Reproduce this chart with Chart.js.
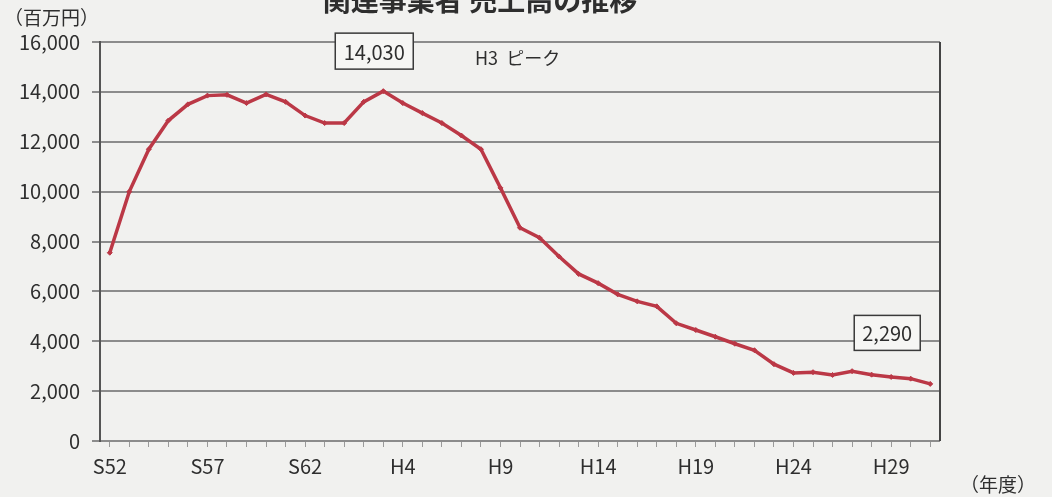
<!DOCTYPE html>
<html lang="ja">
<head>
<meta charset="utf-8">
<script src="https://cdn.jsdelivr.net/npm/chart.js@4.4.0/dist/chart.umd.min.js"></script>
<style>
  html,body{margin:0;padding:0;background:#f1f1ef;}
  #wrap{width:1052px;height:497px;position:relative;}
</style>
</head>
<body>
<div id="wrap"><canvas id="c" width="1052" height="497"></canvas></div>
<script>
// 年度ラベル（S52〜H31）
const years = [
  'S52','S53','S54','S55','S56','S57','S58','S59','S60','S61','S62','S63',
  'H1','H2','H3','H4','H5','H6','H7','H8','H9','H10','H11','H12','H13','H14',
  'H15','H16','H17','H18','H19','H20','H21','H22','H23','H24','H25','H26',
  'H27','H28','H29','H30','H31'
];
// 売上高（百万円）
const sales = [
  7550,10000,11700,12850,13500,13850,13880,13550,13900,13600,13050,12750,
  12750,13600,14030,13550,13150,12750,12250,11700,10150,8550,8150,7400,6700,6330,
  5880,5600,5400,4720,4450,4180,3900,3640,3080,2730,2760,2650,
  2800,2660,2570,2500,2290
];
const shownTicks = ['S52','S57','S62','H4','H9','H14','H19','H24','H29'];
const yTicks = [0,2000,4000,6000,8000,10000,12000,14000,16000];

const FONT = '"Noto Sans CJK JP","Noto Sans",sans-serif';
const TXT = '#2e2e2e';

const extras = {
  id: 'extras',
  afterDraw(chart) {
    const {ctx, chartArea:a, scales:{x,y}} = chart;
    ctx.save();
    // right border of plot
    ctx.strokeStyle = '#444'; ctx.lineWidth = 2;
    ctx.beginPath(); ctx.moveTo(a.right, a.top); ctx.lineTo(a.right, a.bottom); ctx.stroke();

    ctx.fillStyle = TXT;
    ctx.font = '19px ' + FONT;
    ctx.textBaseline = 'middle';
    ctx.textAlign = 'left';
    ctx.fillText('（百万円）', 4, 18);
    ctx.fillText('（年度）', 960, 485);

    // title, cut at the top edge
    ctx.font = 'bold 28px ' + FONT;
    ctx.textAlign = 'center';
    ctx.fillText('関連事業者 売上高の推移', 480, 0);

    // value boxes
    const box = (txt, cx, cy, w, h) => {
      ctx.fillStyle = '#f6f6f4';
      ctx.fillRect(cx - w/2, cy - h/2, w, h);
      ctx.strokeStyle = '#3a3a3a'; ctx.lineWidth = 1.5;
      ctx.strokeRect(cx - w/2, cy - h/2, w, h);
      ctx.fillStyle = TXT;
      ctx.font = '20px ' + FONT;
      ctx.textAlign = 'center';
      ctx.fillText(txt, cx, cy + 1);
    };
    const iPeak = years.indexOf('H3');
    const iLast = years.length - 1;
    box(sales[iPeak].toLocaleString('en-US'), x.getPixelForValue(iPeak) - 9, y.getPixelForValue(sales[iPeak]) - 40, 78, 36);
    box(sales[iLast].toLocaleString('en-US'), x.getPixelForValue(iLast) - 43, y.getPixelForValue(sales[iLast]) - 51, 66, 35);

    ctx.font = '18px ' + FONT;
    ctx.textAlign = 'left';
    ctx.fillStyle = TXT;
    ctx.fillText('H3  ピーク', 475, 58);
    ctx.restore();
  }
};

new Chart(document.getElementById('c'), {
  type: 'line',
  data: {
    labels: years,
    datasets: [{
      data: sales,
      borderColor: '#bb3846',
      backgroundColor: '#bb3846',
      borderWidth: 3.5,
      pointStyle: 'rectRot',
      pointRadius: 2.5,
      pointBorderWidth: 1,
      tension: 0
    }]
  },
  options: {
    responsive: false,
    animation: false,
    layout: { padding: { top: 42, right: 112, bottom: 0, left: 0 } },
    plugins: { legend: { display: false }, tooltip: { enabled: false } },
    scales: {
      x: {
        offset: true,
        afterFit: s => { s.height = 56; },
        grid: { drawOnChartArea: false, tickLength: 6, color: '#9a9a9a', lineWidth: 1 },
        border: { display: false },
        ticks: {
          autoSkip: false, maxRotation: 0, padding: 7,
          color: TXT, font: { family: FONT, size: 20 },
          callback: function(v) { const l = this.getLabelForValue(v); return shownTicks.includes(l) ? l : ''; }
        }
      },
      y: {
        min: 0, max: 16000,
        afterFit: s => { s.width = 100; },
        afterBuildTicks: s => { s.ticks = yTicks.map(v => ({ value: v })); },
        grid: { color: '#8c8c8c', lineWidth: 2, tickLength: 8 },
        border: { display: true, color: '#555', width: 2 },
        ticks: {
          padding: 12, color: TXT, font: { family: FONT, size: 20 },
          callback: v => v.toLocaleString('en-US')
        }
      }
    }
  },
  plugins: [extras]
});
</script>
</body>
</html>
